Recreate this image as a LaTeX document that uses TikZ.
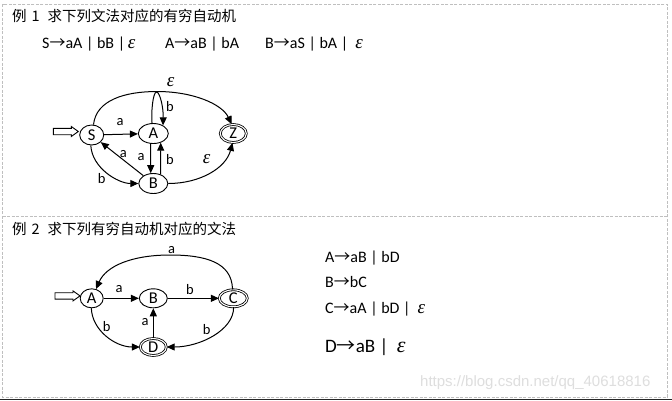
\documentclass[tikz,border=0pt]{standalone}
\usepackage{fontspec}
\setmainfont{Carlito}
\newfontfamily\cjk{Noto Sans CJK SC}
\newfontfamily\wmfont{Liberation Sans}
\newfontfamily\epsfont{Liberation Serif}
\usetikzlibrary{arrows.meta,shapes.geometric}
\newcommand{\ar}{{\cjk →}}
\newcommand{\eps}{{\epsfont\itshape ε}}
\newcommand{\geps}[1]{{\epsfont\itshape\fontsize{#1}{#1}\selectfont ε}}
\begin{document}
\begin{tikzpicture}[x=1pt,y=-1pt,
  every node/.style={inner sep=0pt},
  frame/.style={draw=black!25,line width=0.8pt,dash pattern=on 3pt off 1.5pt},
  st/.style={ellipse,draw,line width=0.9pt,minimum height=20pt,font=\fontsize{16.5}{16.5}\selectfont},
  acc/.style={st,double,double distance=1.1pt,line width=0.8pt},
  e/.style={line width=1pt,-{Triangle[length=8pt,width=7pt]}},
  lab/.style={font=\fontsize{14.5}{14.5}\selectfont},
  elab/.style={font=\fontsize{19}{19}\selectfont},
  title/.style={anchor=base west,font=\cjk\fontsize{14.5}{14.5}\selectfont},
  gram/.style={anchor=base west,font=\fontsize{16}{16}\selectfont},
  inarrow/.style={draw,line width=0.9pt,fill=white}
]
\useasboundingbox (0,0) rectangle (672,400);
\fill[white] (0,0) rectangle (672,400);
\draw[frame] (2.7,4.3) rectangle (667.3,397.3);
\draw[frame] (2.7,216) -- (667.3,216);
\fill[black!85] (0,398.5) rectangle (672,400);

% ---------- Example 1 ----------
\node[title] (t1) at (12,21) {例\hspace{5pt}1\hspace{8pt}求下列文法对应的有穷自动机};
\node[gram] (g1) at (42,48) {S\ar aA | bB |\,\geps{19}};
\node[gram] (g2) at (165,48) {A\ar aB | bA};
\node[gram] (g3) at (265,48) {B\ar aS | bA |\ \ \geps{19}};

\node[st,minimum width=24pt] (S) at (91.7,135) {S};
\node[st,minimum width=30pt] (A) at (153.3,133.5) {A};
\node[st,minimum width=29pt] (B) at (153.3,183.5) {B};
\node[acc,minimum width=26pt,minimum height=18pt] (Z) at (233.3,133.5) {Z};

\draw[inarrow] (53.3,128.3) -- (71.3,128.3) -- (71.3,126.5) -- (78.3,131.5) -- (71.3,136.5) -- (71.3,134.7) -- (53.3,134.7) -- cycle;

\draw[e] (S) -- (A);
\draw[e] (S.80) .. controls (96,100) and (125,91.5) .. (157,91.5) .. controls (193,91.5) and (222,104) .. (Z.100);
\draw[e] (A.97) .. controls (151,112) and (153,92) .. (156.5,92) .. controls (160,92) and (163.5,108) .. (A.40);
\draw[e] (S.265) .. controls (92,168) and (118,183.5) .. (B.west);
\draw[e] (B) -- (S);
\draw[e] (A.-104) -- (B.104);
\draw[e] (B.51) -- (A.-51);
\draw[e] (B.east) .. controls (200,183.5) and (226,168) .. (Z.-95);

\node[lab] (l1) at (120,121.7) {a};
\node[elab] (l2) at (170.7,82) {\eps};
\node[lab] (l3) at (170,106.7) {b};
\node[lab] (l4) at (123.3,154.3) {a};
\node[lab] (l5) at (141,156.7) {a};
\node[lab] (l6) at (170,159.3) {b};
\node[lab] (l7) at (101.7,178.3) {b};
\node[elab] (l8) at (206.7,159) {\eps};

% ---------- Example 2 ----------
\node[title] (t2) at (12,234.5) {例\hspace{5pt}2\hspace{8pt}求下列有穷自动机对应的文法};

\node[st,minimum width=23pt,minimum height=19pt] (A2) at (91.7,298.3) {A};
\node[st,minimum width=28pt,minimum height=19pt] (B2) at (153.3,298.3) {B};
\node[acc,minimum width=28pt,minimum height=17pt] (C2) at (233.3,298.3) {C};
\node[acc,minimum width=26pt,minimum height=17pt] (D2) at (153.3,347) {D};

\draw[inarrow] (55,292.7) -- (73,292.7) -- (73,290.9) -- (80,295.9) -- (73,300.9) -- (73,299.1) -- (55,299.1) -- cycle;

\draw[e] (A2) -- (B2);
\draw[e] (B2) -- (C2);
\draw[e] (C2.95) .. controls (232,262) and (205,255) .. (170,255) .. controls (132,255) and (106,266) .. (A2.65);
\draw[e] (A2.268) .. controls (92,330) and (115,347) .. (D2.west);
\draw[e] (C2.272) .. controls (234,330) and (200,347) .. (D2.east);
\draw[e] (D2) -- (B2);

\node[lab] (m1) at (119,289.3) {a};
\node[lab] (m2) at (190,289.3) {b};
\node[lab] (m3) at (171.7,250) {a};
\node[lab] (m4) at (106.7,326.7) {b};
\node[lab] (m5) at (206.7,330) {b};
\node[lab] (m6) at (145,321.7) {a};

\node[gram] (h1) at (325,262) {A\ar aB | bD};
\node[gram] (h2) at (325,287.5) {B\ar bC};
\node[gram] (h3) at (325,313) {C\ar aA | bD |\ \ \geps{19}};
\node[gram,font=\fontsize{19}{19}\selectfont] (h4) at (325,352.5) {D\ar aB |\ \ \geps{22}};

\node[anchor=base west,font=\wmfont\fontsize{15}{15}\selectfont,text=black!13] (wm) at (420,386) {https://blog.csdn.net/qq\_40618816};
\end{tikzpicture}
\end{document}
